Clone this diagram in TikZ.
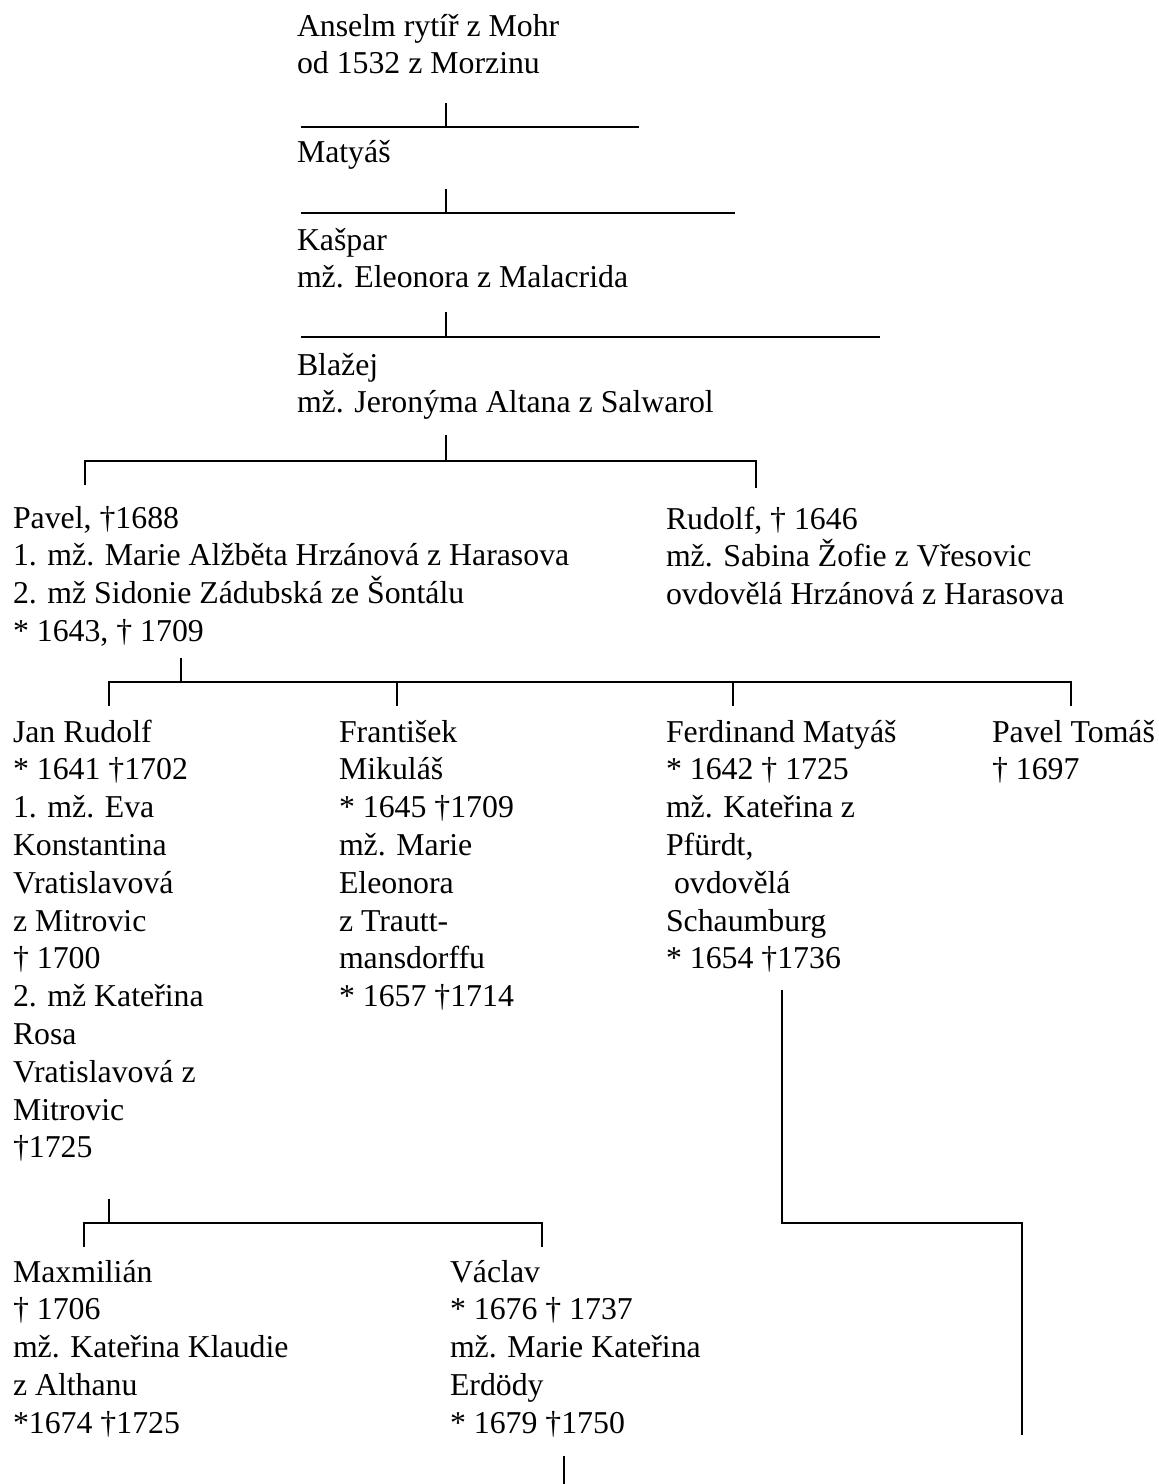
\documentclass[tikz,border=0pt]{standalone}
\usepackage{fontspec}
\setmainfont{Liberation Serif}
\begin{document}
\begin{tikzpicture}[x=1pt,y=-1pt,
  person/.style={anchor=base west, align=left, inner sep=0pt, outer sep=0pt,
    font=\fontsize{31.8}{37.8}\selectfont},
  link/.style={line width=1.7pt, line cap=butt}]
\useasboundingbox[fill=white] (0,0) rectangle (1159,1484);

% people (anchor = baseline of the last line)
\node[person] (anselm) at (297,73.8) {Anselm rytíř z Mohr\\od 1532 z Morzinu};
\node[person] (matyas) at (297,162) {Matyáš};
\node[person] (kaspar) at (297,287.8) {Kašpar\\mž. Eleonora z Malacrida};
\node[person] (blazej) at (297,412.8) {Blažej\\mž. Jeronýma Altana z Salwarol};
\node[person] (pavel) at (13,641.4) {Pavel, †1688\\1. mž. Marie Alžběta Hrzánová z Harasova\\2. mž Sidonie Zádubská ze Šontálu\\* 1643, † 1709};
\node[person] (rudolf) at (666,604.6) {Rudolf, † 1646\\mž. Sabina Žofie z Vřesovic\\ovdovělá Hrzánová z Harasova};
\node[person] (janrudolf) at (13,1157.8) {Jan Rudolf\\* 1641 †1702\\1. mž. Eva\\Konstantina\\Vratislavová\\z Mitrovic\\† 1700\\2. mž Kateřina\\Rosa\\Vratislavová z\\Mitrovic\\†1725};
\node[person] (frantisek) at (339,1006.6) {František\\Mikuláš\\* 1645 †1709\\mž. Marie\\Eleonora\\z Trautt-\\mansdorffu\\* 1657 †1714};
\node[person] (ferdinand) at (666,968.8) {Ferdinand Matyáš\\* 1642 † 1725\\mž. Kateřina z\\Pfürdt,\\\hspace*{8pt}ovdovělá\\Schaumburg\\* 1654 †1736};
\node[person] (paveltomas) at (992,779.8) {Pavel Tomáš\\† 1697};
\node[person] (maxmilian) at (13,1433.2) {Maxmilián\\† 1706\\mž. Kateřina Klaudie\\z Althanu\\*1674 †1725};
\node[person] (vaclav) at (450,1433.2) {Václav\\* 1676 † 1737\\mž. Marie Kateřina\\Erdödy\\* 1679 †1750};

% junction points
\coordinate (a1) at (446,103); \coordinate (a2) at (446,127);
\coordinate (a3) at (301,127); \coordinate (a4) at (639,127);
\coordinate (m1) at (446,189); \coordinate (m2) at (446,213);
\coordinate (m3) at (301,213); \coordinate (m4) at (735,213);
\coordinate (k1) at (446,312); \coordinate (k2) at (446,337);
\coordinate (k3) at (301,337); \coordinate (k4) at (880,337);
\coordinate (b1) at (446,435); \coordinate (b2) at (446,461);
\coordinate (b3) at (85,461);  \coordinate (b4) at (756,461);
\coordinate (b5) at (85,485);  \coordinate (b6) at (756,488);
\coordinate (p1) at (181,658); \coordinate (p2) at (181,682);
\coordinate (p3) at (109,682); \coordinate (p4) at (1071,682);
\coordinate (q1) at (109,706); \coordinate (q2) at (397,682); \coordinate (q3) at (397,706);
\coordinate (q4) at (733,682); \coordinate (q5) at (733,706); \coordinate (q6) at (1071,706);
\coordinate (j1) at (109,1199); \coordinate (j2) at (109,1223);
\coordinate (j3) at (84,1223);  \coordinate (j4) at (542,1223);
\coordinate (j5) at (84,1247);  \coordinate (j6) at (542,1247);
\coordinate (f1) at (782,990);  \coordinate (f2) at (782,1223);
\coordinate (f3) at (1022,1223); \coordinate (f4) at (1022,1435);
\coordinate (v1) at (564,1456); \coordinate (v2) at (564,1484);

% connectors
\draw[link] (a1) -- (a2); \draw[link] (a3) -- (a4);
\draw[link] (m1) -- (m2); \draw[link] (m3) -- (m4);
\draw[link] (k1) -- (k2); \draw[link] (k3) -- (k4);
\draw[link] (b1) -- (b2); \draw[link] (b5) -- (b3) -- (b4) -- (b6);
\draw[link] (p1) -- (p2); \draw[link] (q1) -- (p3) -- (p4) -- (q6);
\draw[link] (q2) -- (q3); \draw[link] (q4) -- (q5);
\draw[link] (j1) -- (j2); \draw[link] (j5) -- (j3) -- (j4) -- (j6);
\draw[link] (f1) -- (f2) -- (f3) -- (f4);
\draw[link] (v1) -- (v2);
\end{tikzpicture}
\end{document}
